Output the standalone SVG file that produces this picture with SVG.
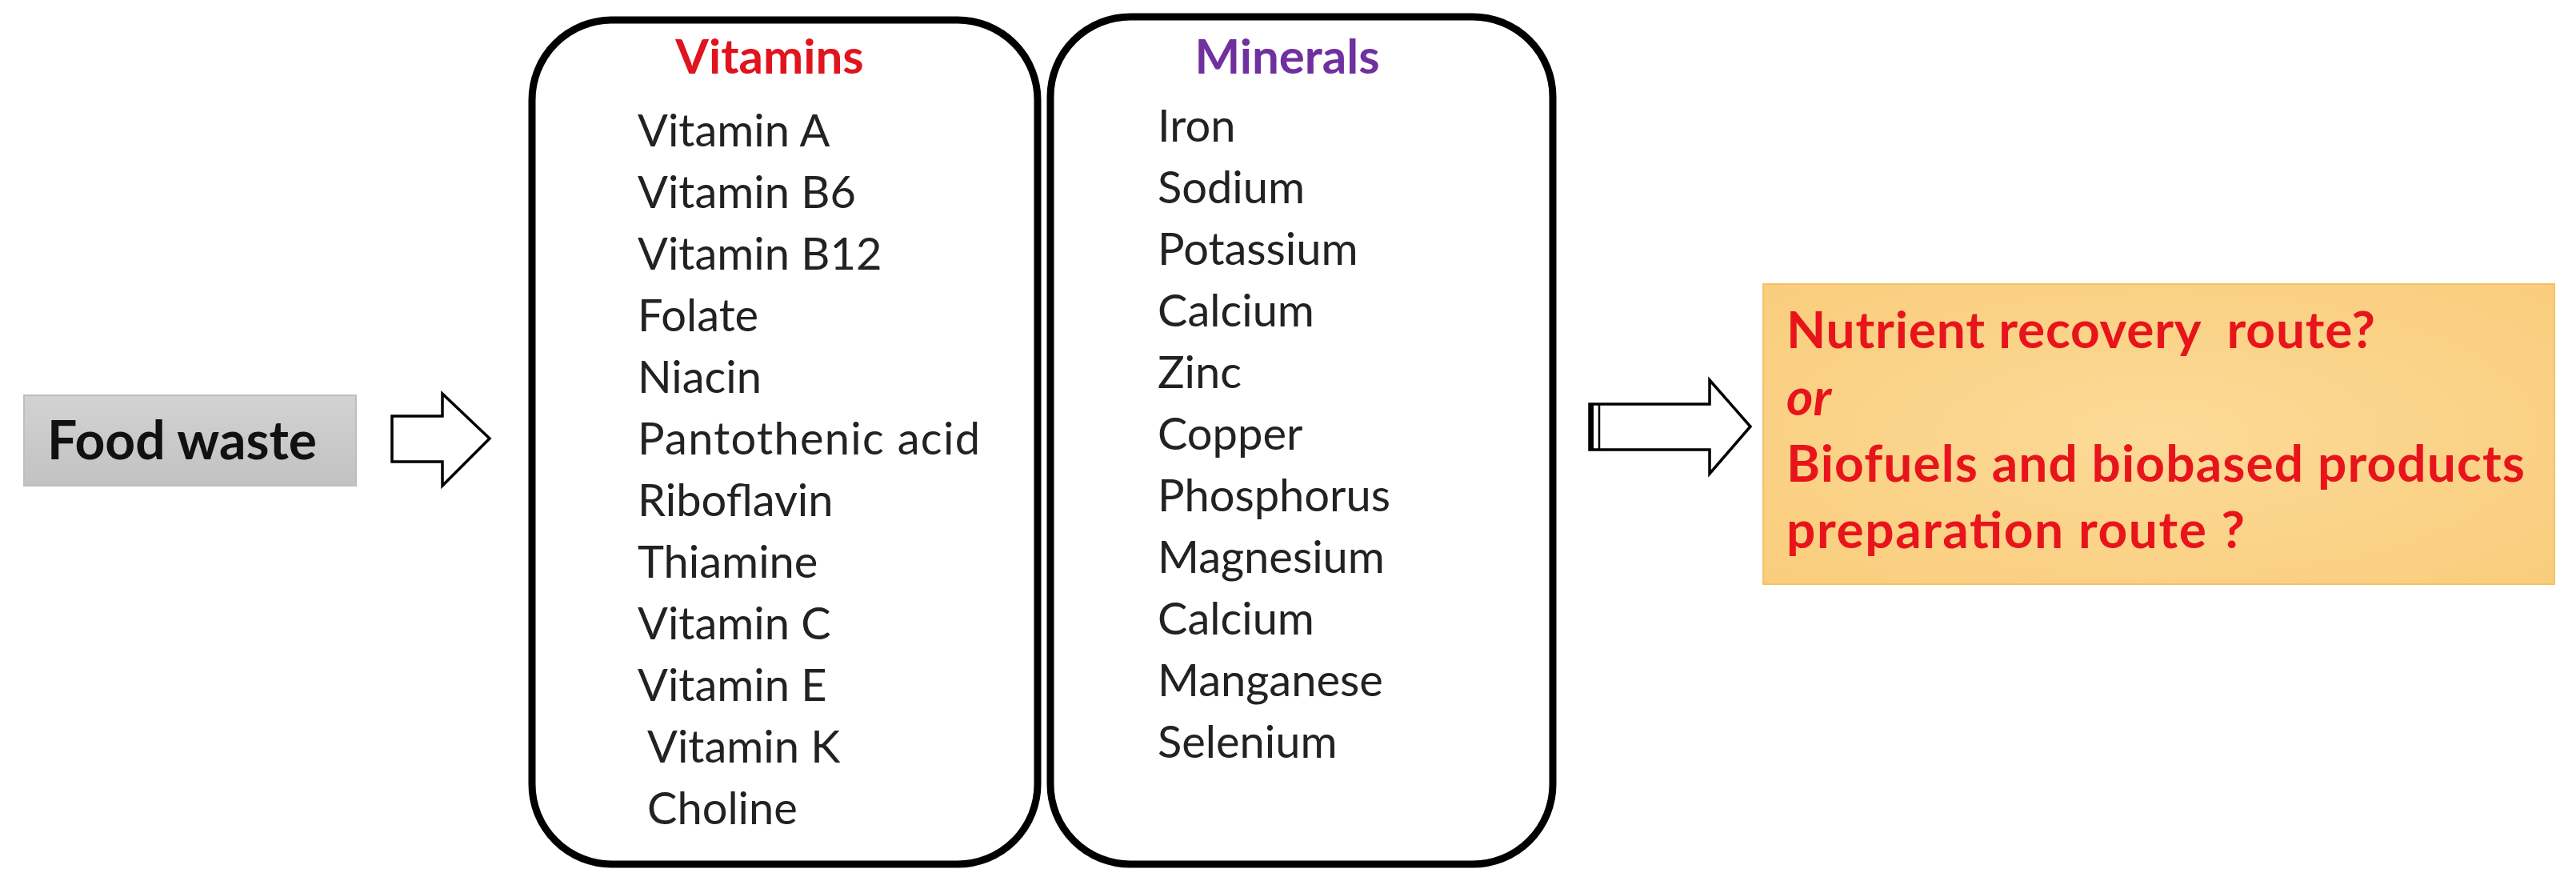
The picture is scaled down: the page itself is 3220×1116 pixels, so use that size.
<svg xmlns="http://www.w3.org/2000/svg" width="3220" height="1116" viewBox="0 0 3220 1116">
<defs>
<style>
.item{font-family:Lato,"Liberation Sans",sans-serif;font-size:56px;fill:#222222}
.head{font-family:Lato,"Liberation Sans",sans-serif;font-size:60px;font-weight:bold}
.q{font-family:Lato,"Liberation Sans",sans-serif;font-size:64px;font-weight:bold;fill:#E8141B;white-space:pre}
.panel{fill:#ffffff;stroke:#000000;stroke-width:9}
.arrow{fill:#ffffff;stroke:#000000;stroke-width:3.5;stroke-linejoin:miter}
</style>
<linearGradient id="gFood" x1="0" y1="0" x2="0" y2="1">
<stop offset="0" stop-color="#D2D2D2"/>
<stop offset="1" stop-color="#C2C2C2"/>
</linearGradient>
<radialGradient id="gOrange" cx="0.5" cy="0.5" r="0.7">
<stop offset="0" stop-color="#FCDA98"/>
<stop offset="1" stop-color="#F9CD7C"/>
</radialGradient>
</defs>
<rect width="3220" height="1116" fill="#ffffff"/>

<g id="food-waste">
<rect x="30" y="494" width="415" height="113" fill="url(#gFood)" stroke="#BEBEBE" stroke-width="2"/>
<text x="59" y="574" style="font-family:Lato,'Liberation Sans',sans-serif;font-size:66px;font-weight:bold" fill="#111111">Food waste</text>
</g>

<g id="vitamins">
<rect class="panel" x="665" y="25" width="632" height="1055" rx="100" ry="100"/>
<text class="head" x="962" y="92" text-anchor="middle" fill="#E0141E">Vitamins</text>
<text class="item" x="797" y="183">Vitamin A</text>
<text class="item" x="797" y="260">Vitamin B6</text>
<text class="item" x="797" y="337">Vitamin B12</text>
<text class="item" x="797" y="414">Folate</text>
<text class="item" x="797" y="491">Niacin</text>
<text class="item" x="797" y="568" textLength="428">Pantothenic acid</text>
<text class="item" x="797" y="645">Riboflavin</text>
<text class="item" x="797" y="722">Thiamine</text>
<text class="item" x="797" y="799">Vitamin C</text>
<text class="item" x="797" y="876">Vitamin E</text>
<text class="item" x="809" y="953">Vitamin K</text>
<text class="item" x="809" y="1030">Choline</text>
</g>

<g id="minerals">
<rect class="panel" x="1313" y="21" width="628" height="1059" rx="100" ry="100"/>
<text class="head" x="1609" y="92" text-anchor="middle" fill="#7030A0">Minerals</text>
<text class="item" x="1447" y="177">Iron</text>
<text class="item" x="1447" y="254">Sodium</text>
<text class="item" x="1447" y="331">Potassium</text>
<text class="item" x="1447" y="408">Calcium</text>
<text class="item" x="1447" y="485">Zinc</text>
<text class="item" x="1447" y="562">Copper</text>
<text class="item" x="1447" y="639">Phosphorus</text>
<text class="item" x="1447" y="716">Magnesium</text>
<text class="item" x="1447" y="793">Calcium</text>
<text class="item" x="1447" y="870">Manganese</text>
<text class="item" x="1447" y="947">Selenium</text>
</g>

<g id="route-question">
<rect x="2204" y="355" width="989" height="375" fill="url(#gOrange)" stroke="#F3C266" stroke-width="2"/>
<text class="q" x="2233" y="435" textLength="736">Nutrient recovery  route?</text>
<text class="q" x="2233" y="519" font-style="italic">or</text>
<text class="q" x="2233" y="602" textLength="923">Biofuels and biobased products</text>
<text class="q" x="2233" y="685" textLength="573">preparation route ?</text>
</g>

<g id="connectors">
<polygon class="arrow" points="490,520 553,520 553,492 612,548 553,607 553,577 490,577"/>
<polygon class="arrow" points="1987,505 2137,505 2137,475 2188,533 2137,592 2137,562 1987,562"/>
<line x1="1989" y1="505" x2="1989" y2="562" stroke="#000000" stroke-width="6"/>
<line x1="1999" y1="505" x2="1999" y2="562" stroke="#000000" stroke-width="2.5"/>
</g>
</svg>
